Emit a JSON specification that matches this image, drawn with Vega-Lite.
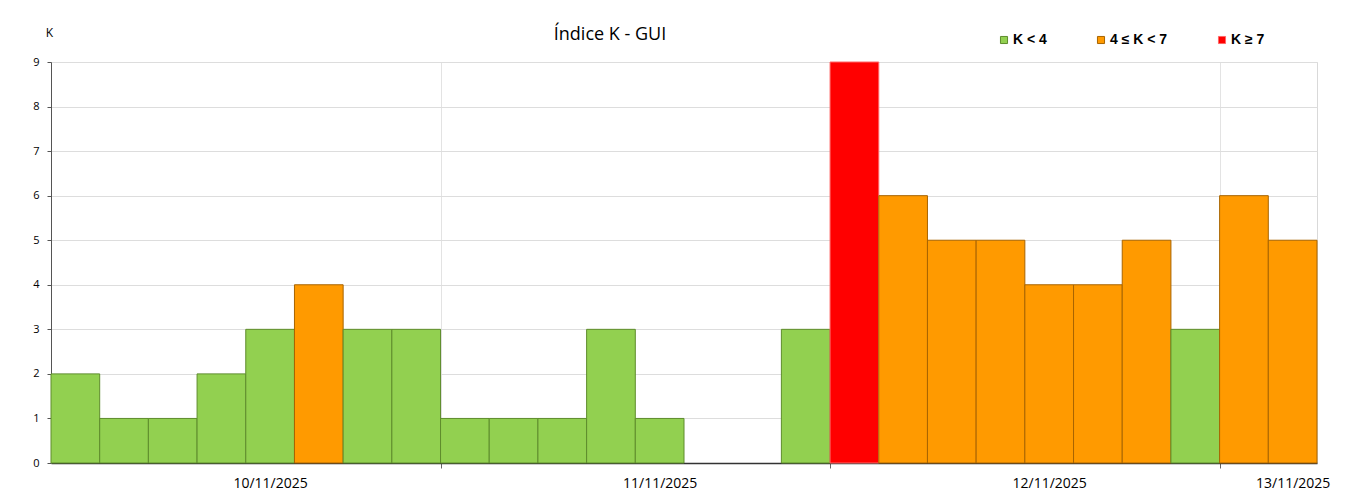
{
  "$schema": "https://vega.github.io/schema/vega-lite/v6.json",
  "width": 1266,
  "height": 401,
  "autosize": {"type": "none"},
  "padding": {"left": 51, "top": 62, "right": 38, "bottom": 29},
  "background": "white",
  "title": {
    "text": "Índice K - GUI",
    "font": "Open Sans",
    "fontSize": 18,
    "fontWeight": "normal",
    "color": "#000000",
    "anchor": "middle",
    "dx": -74,
    "dy": 22
  },
  "data": {
    "values": [
      {"start": 0, "end": 3, "k": 2, "cat": "K < 4"},
      {"start": 3, "end": 6, "k": 1, "cat": "K < 4"},
      {"start": 6, "end": 9, "k": 1, "cat": "K < 4"},
      {"start": 9, "end": 12, "k": 2, "cat": "K < 4"},
      {"start": 12, "end": 15, "k": 3, "cat": "K < 4"},
      {"start": 15, "end": 18, "k": 4, "cat": "4 ≤ K < 7"},
      {"start": 18, "end": 21, "k": 3, "cat": "K < 4"},
      {"start": 21, "end": 24, "k": 3, "cat": "K < 4"},
      {"start": 24, "end": 27, "k": 1, "cat": "K < 4"},
      {"start": 27, "end": 30, "k": 1, "cat": "K < 4"},
      {"start": 30, "end": 33, "k": 1, "cat": "K < 4"},
      {"start": 33, "end": 36, "k": 3, "cat": "K < 4"},
      {"start": 36, "end": 39, "k": 1, "cat": "K < 4"},
      {"start": 45, "end": 48, "k": 3, "cat": "K < 4"},
      {"start": 48, "end": 51, "k": 9, "cat": "K ≥ 7"},
      {"start": 51, "end": 54, "k": 6, "cat": "4 ≤ K < 7"},
      {"start": 54, "end": 57, "k": 5, "cat": "4 ≤ K < 7"},
      {"start": 57, "end": 60, "k": 5, "cat": "4 ≤ K < 7"},
      {"start": 60, "end": 63, "k": 4, "cat": "4 ≤ K < 7"},
      {"start": 63, "end": 66, "k": 4, "cat": "4 ≤ K < 7"},
      {"start": 66, "end": 69, "k": 5, "cat": "4 ≤ K < 7"},
      {"start": 69, "end": 72, "k": 3, "cat": "K < 4"},
      {"start": 72, "end": 75, "k": 6, "cat": "4 ≤ K < 7"},
      {"start": 75, "end": 78, "k": 5, "cat": "4 ≤ K < 7"}
    ]
  },
  "mark": {"type": "bar", "strokeWidth": 1},
  "encoding": {
    "x": {
      "field": "start",
      "type": "quantitative",
      "scale": {"domain": [0, 78], "nice": false, "zero": false},
      "axis": {
        "title": null,
        "values": [13.5, 24, 37.5, 48, 61.5, 72, 76.5],
        "labelExpr": "datum.value == 13.5 ? '10/11/2025' : datum.value == 37.5 ? '11/11/2025' : datum.value == 61.5 ? '12/11/2025' : datum.value == 76.5 ? '13/11/2025' : ''",
        "tickOpacity": {"condition": {"test": "datum.value % 24 === 0", "value": 1}, "value": 0},
        "gridOpacity": {"condition": {"test": "datum.value % 24 === 0", "value": 1}, "value": 0},
        "grid": true,
        "gridColor": "#E3E3E3",
        "tickColor": "#666666",
        "tickSize": 5,
        "domainColor": "#333333",
        "domainWidth": 1.5,
        "labelFont": "Open Sans",
        "labelFontSize": 14,
        "labelColor": "#000000",
        "labelPadding": 8,
        "labelFlush": false,
        "labelOverlap": false,
        "labelBound": false
      }
    },
    "x2": {"field": "end"},
    "y": {
      "field": "k",
      "type": "quantitative",
      "scale": {"domain": [0, 9], "nice": false},
      "axis": {
        "values": [0, 1, 2, 3, 4, 5, 6, 7, 8, 9],
        "grid": true,
        "gridColor": "#DDDDDD",
        "domainColor": "#555555",
        "tickColor": "#555555",
        "tickSize": 4,
        "labelPadding": 8,
        "labelFont": "Open Sans",
        "labelFontSize": 11,
        "labelColor": "#000000",
        "title": "K",
        "titleAngle": 0,
        "titleX": -2,
        "titleY": -30,
        "titleAlign": "center",
        "titleBaseline": "middle",
        "titleFont": "Open Sans",
        "titleFontSize": 12,
        "titleFontWeight": "normal",
        "titleColor": "#000000"
      }
    },
    "y2": {"datum": 0},
    "fill": {
      "field": "cat",
      "type": "nominal",
      "scale": {"domain": ["K < 4", "4 ≤ K < 7", "K ≥ 7"], "range": ["#92D050", "#FF9A00", "#FF0000"]},
      "legend": {
        "title": null,
        "orient": "none",
        "legendX": 946,
        "legendY": -29,
        "direction": "horizontal",
        "symbolType": "square",
        "symbolSize": 50,
        "symbolStrokeWidth": 1,
        "labelFont": "Liberation Sans",
        "labelFontSize": 14,
        "labelFontWeight": "bold",
        "labelColor": "#000000",
        "columnPadding": 47,
        "labelOffset": 2
      }
    },
    "stroke": {
      "field": "cat",
      "type": "nominal",
      "scale": {"domain": ["K < 4", "4 ≤ K < 7", "K ≥ 7"], "range": ["#5E8C2C", "#A86400", "#FF6666"]},
      "legend": {
        "title": null,
        "orient": "none",
        "legendX": 946,
        "legendY": -29,
        "direction": "horizontal",
        "symbolType": "square",
        "symbolSize": 50,
        "symbolStrokeWidth": 1,
        "labelFont": "Liberation Sans",
        "labelFontSize": 14,
        "labelFontWeight": "bold",
        "labelColor": "#000000",
        "columnPadding": 47,
        "labelOffset": 2
      }
    }
  },
  "config": {
    "view": {"stroke": "#D9D9D9"}
  }
}
